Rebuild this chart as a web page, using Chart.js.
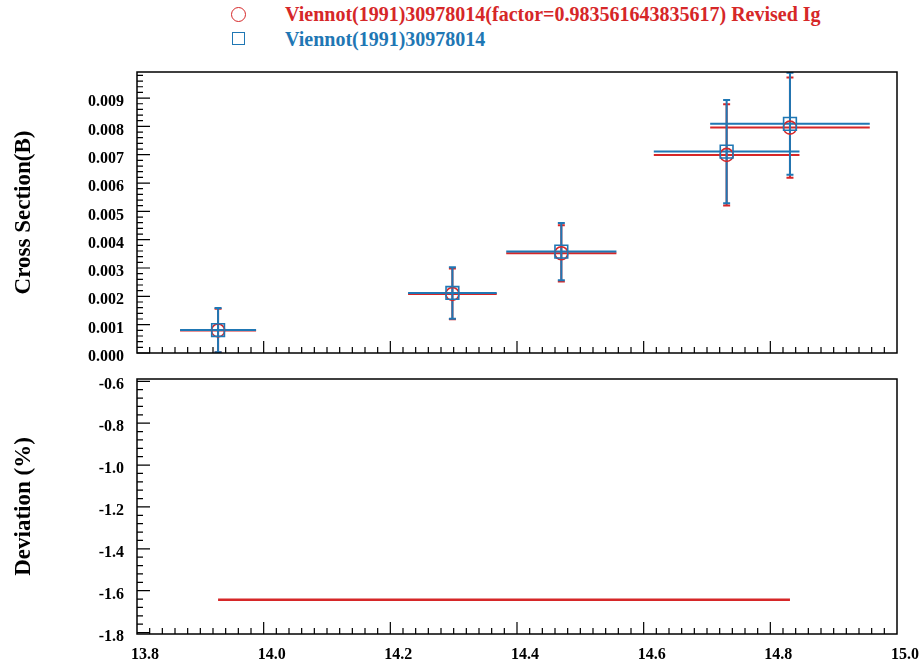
<!DOCTYPE html>
<html>
<head>
<meta charset="utf-8">
<script src="https://cdn.jsdelivr.net/npm/chart.js@4.4.0/dist/chart.umd.min.js"></script>
<style>
  body { margin: 0; background: #fff; }
  #wrap { position: relative; width: 919px; height: 664px; overflow: hidden; font-family: "Liberation Serif", "Times New Roman", serif; }
  canvas { position: absolute; left: 0; }
  .leg { position: absolute; left: 285px; font-weight: bold; font-size: 20px; line-height: 24px; white-space: nowrap; }
  .sym { position: absolute; box-sizing: border-box; }
</style>
</head>
<body>
<div id="wrap">
  <div class="sym" style="left:231px;top:7px;width:15px;height:15px;border:1.5px solid #d62728;border-radius:50%;"></div>
  <div class="leg" style="top:2px;color:#d62728;">Viennot(1991)30978014(factor=0.983561643835617) Revised Ig</div>
  <div class="sym" style="left:232px;top:32px;width:13px;height:13px;border:1.5px solid #1f77b4;"></div>
  <div class="leg" style="top:27px;color:#1f77b4;">Viennot(1991)30978014</div>
  <canvas id="top" width="919" height="370" style="top:0;"></canvas>
  <canvas id="bottom" width="919" height="294" style="top:370px;"></canvas>
</div>
<script>
// --- data ---
const energy      = [13.928, 14.298, 14.470, 14.731, 14.831];   // MeV
const energyErr   = [0.060, 0.070, 0.087, 0.115, 0.126];
const xsOrig      = [0.00081, 0.00212, 0.00358, 0.00711, 0.00809]; // b
const xsOrigErr   = [0.00078, 0.00091, 0.00101, 0.00182, 0.00180];
const xsRevised   = [0.000797, 0.002085, 0.003521, 0.006993, 0.007957];
const xsRevisedErr = [0.000767, 0.000895, 0.000993, 0.00179, 0.00177];
const deviation   = [-1.644, -1.644, -1.644, -1.644, -1.644];     // %

const RED = '#d62728';
const BLUE = '#1f77b4';
const FONT = '"Liberation Serif", "Times New Roman", serif';
const tickFont = { family: FONT, size: 16, weight: 'bold' };
const titleFont = { family: FONT, size: 23, weight: 'bold' };

// error bars, drawn through the chart scales
const errorBars = {
    id: 'errorBars',
    beforeDatasetsDraw(chart) {
        const { ctx, chartArea, scales: { x, y } } = chart;
        const sets = chart.data.datasets.filter(d => d.xErr).sort((a, b) => b.order - a.order);
        ctx.save();
        ctx.beginPath();
        ctx.rect(chartArea.left, chartArea.top, chartArea.right - chartArea.left, chartArea.bottom - chartArea.top);
        ctx.clip();
        sets.forEach(ds => {
            ctx.strokeStyle = ds.borderColor;
            ctx.lineWidth = 2;
            ds.data.forEach((p, i) => {
                const px = x.getPixelForValue(p.x), py = y.getPixelForValue(p.y);
                const xl = x.getPixelForValue(p.x - ds.xErr[i]), xr = x.getPixelForValue(p.x + ds.xErr[i]);
                const yt = y.getPixelForValue(p.y + ds.yErr[i]), yb = y.getPixelForValue(p.y - ds.yErr[i]);
                ctx.beginPath();
                ctx.moveTo(xl, py); ctx.lineTo(xr, py);
                ctx.moveTo(px, yt); ctx.lineTo(px, yb);
                ctx.moveTo(px - 3.5, yt); ctx.lineTo(px + 3.5, yt);
                ctx.moveTo(px - 3.5, yb); ctx.lineTo(px + 3.5, yb);
                ctx.stroke();
            });
        });
        ctx.restore();
    }
};

// frame plus inward major/minor ticks (ROOT look)
const frameTicks = {
    id: 'frameTicks',
    afterDraw(chart, args, opts) {
        const { ctx, chartArea: a, scales: { x, y } } = chart;
        ctx.save();
        ctx.strokeStyle = '#000';
        ctx.lineWidth = 1.2;
        ctx.beginPath();
        const xn = Math.round((x.max - x.min) / opts.xMinor);
        for (let i = 1; i < xn; i++) {
            const px = x.getPixelForValue(x.min + i * opts.xMinor);
            const len = i % opts.xPer === 0 ? 12 : 6;
            ctx.moveTo(px, a.bottom); ctx.lineTo(px, a.bottom - len);
        }
        for (let i = 0; opts.yStart + i * opts.yMinor <= y.max + 1e-12; i++) {
            const v = opts.yStart + i * opts.yMinor;
            if (v < y.min) continue;
            const py = y.getPixelForValue(v);
            const len = i % opts.yPer === 0 ? 13 : 6;
            ctx.moveTo(a.left, py); ctx.lineTo(a.left + len, py);
        }
        ctx.stroke();
        ctx.lineWidth = 1.5;
        ctx.strokeRect(a.left, a.top, a.right - a.left, a.bottom - a.top);
        ctx.restore();
    }
};

const pts = (xs, ys) => xs.map((v, i) => ({ x: v, y: ys[i] }));

// pin the plot frame: no automatic room for half labels
const fixY = s => { s.width = 137; s.paddingTop = 0; s.paddingBottom = 0; };
const fixX = h => s => { s.height = h; s.paddingLeft = 0; s.paddingRight = 0; };

new Chart(document.getElementById('top'), {
    type: 'scatter',
    data: {
        datasets: [
            {
                label: 'Viennot(1991)30978014',
                data: pts(energy, xsOrig),
                xErr: energyErr, yErr: xsOrigErr,
                borderColor: BLUE, backgroundColor: 'rgba(0,0,0,0)',
                pointStyle: 'rect', pointRadius: 9, borderWidth: 1.6, order: 0
            },
            {
                label: 'Viennot(1991)30978014(factor=0.983561643835617) Revised Ig',
                data: pts(energy, xsRevised),
                xErr: energyErr, yErr: xsRevisedErr,
                borderColor: RED, backgroundColor: 'rgba(0,0,0,0)',
                pointStyle: 'circle', pointRadius: 6.5, borderWidth: 1.6, order: 1
            }
        ]
    },
    options: {
        responsive: false, animation: false,
        layout: { padding: { top: 72, right: 22, left: 0, bottom: 0 } },
        plugins: {
            legend: { display: false }, tooltip: { enabled: false },
            frameTicks: { xMinor: 0.02, xPer: 10, yStart: 0, yMinor: 0.0002, yPer: 5 }
        },
        scales: {
            x: {
                type: 'linear', min: 13.8, max: 15.0,
                grid: { display: false, drawTicks: false }, border: { display: false },
                ticks: { display: false },
                afterFit: fixX(17)
            },
            y: {
                min: 0, max: 0.00992,
                grid: { display: false, drawTicks: false }, border: { display: false },
                ticks: { stepSize: 0.001, includeBounds: false, color: '#000', font: tickFont, padding: 13, labelOffset: 4,
                         callback: v => v.toFixed(3) },
                title: { display: true, text: 'Cross Section(B)', color: '#000', font: titleFont, padding: { top: 10, bottom: 0 } },
                afterFit: fixY
            }
        }
    },
    plugins: [errorBars, frameTicks]
});

new Chart(document.getElementById('bottom'), {
    type: 'scatter',
    data: {
        datasets: [{
            label: 'Revised Ig',
            data: pts(energy, deviation),
            showLine: true, borderColor: RED, borderWidth: 2.5, pointRadius: 0
        }]
    },
    options: {
        responsive: false, animation: false,
        layout: { padding: { top: 9, right: 22, left: 0, bottom: 0 } },
        plugins: {
            legend: { display: false }, tooltip: { enabled: false },
            frameTicks: { xMinor: 0.02, xPer: 10, yStart: -1.8, yMinor: 0.04, yPer: 5 }
        },
        scales: {
            x: {
                type: 'linear', min: 13.8, max: 15.0,
                grid: { display: false, drawTicks: false }, border: { display: false },
                ticks: { stepSize: 0.2, includeBounds: false, color: '#000', font: tickFont, padding: 11, labelOffset: 8,
                         maxRotation: 0, autoSkip: false, callback: v => v.toFixed(1) },
                afterFit: fixX(30)
            },
            y: {
                min: -1.807, max: -0.589,
                grid: { display: false, drawTicks: false }, border: { display: false },
                ticks: { stepSize: 0.2, includeBounds: false, color: '#000', font: tickFont, padding: 13, labelOffset: 4,
                         callback: v => v.toFixed(1) },
                title: { display: true, text: 'Deviation (%)', color: '#000', font: titleFont, padding: { top: 10, bottom: 0 } },
                afterFit: fixY
            }
        }
    },
    plugins: [frameTicks]
});
</script>
</body>
</html>
